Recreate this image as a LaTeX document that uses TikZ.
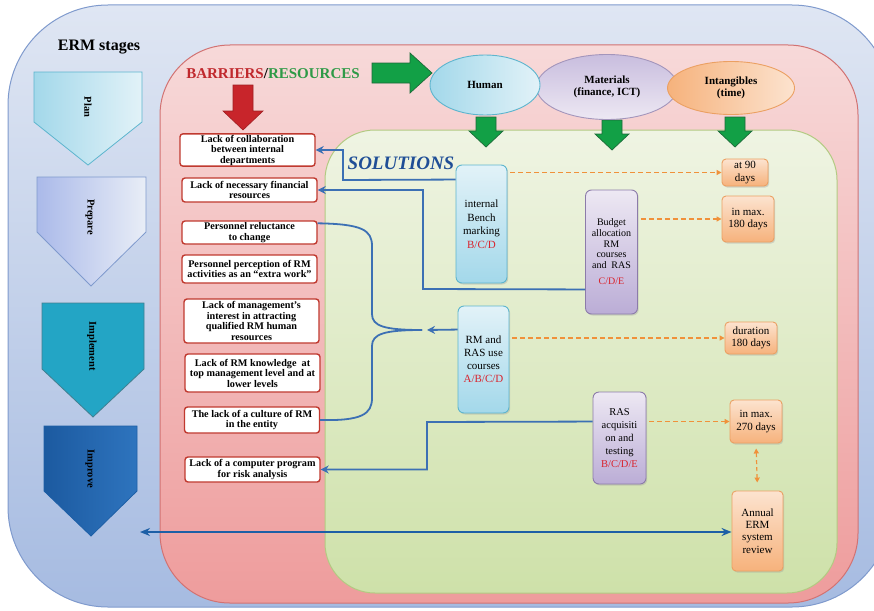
\documentclass[tikz,border=0pt]{standalone}
\usepackage{fontspec}
\setmainfont{Liberation Serif}
\usetikzlibrary{arrows.meta,calc,shapes.geometric}

\definecolor{bgtop}{HTML}{DFE6F3}
\definecolor{bgbot}{HTML}{A6BBE1}
\definecolor{bgline}{HTML}{7F9ACD}
\definecolor{pinktop}{HTML}{F7D9D9}
\definecolor{pinkbot}{HTML}{EE9C9C}
\definecolor{pinkline}{HTML}{D27272}
\definecolor{greentop}{HTML}{EFF4E3}
\definecolor{greenbot}{HTML}{CEE1A9}
\definecolor{greenline}{HTML}{B3CA82}
\definecolor{barrierred}{HTML}{C0392F}
\definecolor{codered}{HTML}{D9232D}
\definecolor{cyantop}{HTML}{E2F2F8}
\definecolor{cyanbot}{HTML}{A3D8EA}
\definecolor{cyanline}{HTML}{5DB5CE}
\definecolor{lavtop}{HTML}{EDE8F3}
\definecolor{lavbot}{HTML}{BBADD6}
\definecolor{lavline}{HTML}{8C7BAA}
\definecolor{peachtop}{HTML}{FCE3CF}
\definecolor{peachbot}{HTML}{F6B27C}
\definecolor{peachline}{HTML}{EBA062}
\definecolor{connblue}{HTML}{3C70B4}
\definecolor{longblue}{HTML}{1D5FA6}
\definecolor{dashorange}{HTML}{F0913A}
\definecolor{arrowgreen}{HTML}{12A046}
\definecolor{arrowgreenline}{HTML}{1D6A39}
\definecolor{arrowred}{HTML}{C8252B}
\definecolor{solblue}{HTML}{1F4E96}
\definecolor{resgreen}{HTML}{2E9A47}
\definecolor{barred}{HTML}{C0282D}
\definecolor{shadowgray}{HTML}{9A9A9A}

\begin{document}
\begin{tikzpicture}[x=1pt,y=-1pt,
  barrier/.style={draw=barrierred, line width=1.4pt, fill=white, rounded corners=3pt,
    font=\bfseries\fontsize{10.2}{10.5}\selectfont, align=center, inner sep=1pt,
    minimum width=135pt},
  softshadow/.style={preaction={fill=shadowgray, fill opacity=0.35,
    transform canvas={xshift=1.2pt, yshift=-1.5pt}}},
  solcyan/.style={softshadow, draw=cyanline, line width=0.9pt, top color=cyantop, bottom color=cyanbot,
    rounded corners=6pt, align=center, inner sep=1pt, minimum width=51pt},
  sollav/.style={softshadow, draw=lavline, line width=0.9pt, top color=lavtop, bottom color=lavbot,
    rounded corners=6pt, align=center, inner sep=1pt, minimum width=52pt},
  timebox/.style={softshadow, draw=peachline, line width=0.9pt, top color=peachtop, bottom color=peachbot,
    rounded corners=4pt, align=center, inner sep=1pt,
    font=\fontsize{11}{12.3}\selectfont},
  stagelabel/.style={rotate=-90, font=\bfseries\fontsize{10.5}{12}\selectfont},
  resource/.style={ellipse, line width=0.9pt, align=center, inner sep=0pt,
    font=\bfseries\fontsize{11}{12.5}\selectfont},
  conn/.style={draw=connblue, line width=1.8pt, -{Stealth[length=8pt,width=8pt]}},
  bracepath/.style={draw=connblue, line width=1.8pt},
  timedash/.style={draw=dashorange, line width=1.2pt, dash pattern=on 5pt off 3pt,
    -{Triangle[length=5pt,width=5pt]}, shorten <=3pt},
  greenblock/.style={fill=arrowgreen, draw=arrowgreenline, line width=0.7pt}
]
\useasboundingbox (0,0) rectangle (874,610);

% nested background panels
\begin{scope}
  \clip (0,0) rectangle (874,610);
  \path[draw=bgline, line width=1pt, top color=bgtop, bottom color=bgbot,
        rounded corners=100pt] (8,5) rectangle (892,607);
\end{scope}
\path[draw=pinkline, line width=1pt, top color=pinktop, bottom color=pinkbot,
      rounded corners=70pt] (160,45) rectangle (858,603);
\path[draw=greenline, line width=1pt, top color=greentop, bottom color=greenbot,
      rounded corners=50pt] (325,130) rectangle (837,593);

% ERM stage pentagons
\node[font=\bfseries\fontsize{16}{18}\selectfont] (ermtitle) at (99,47) {ERM stages};
\path[draw=cyanline, line width=0.8pt, left color=cyanbot, right color=cyantop]
  (34,72) -- (142,72) -- (142,122) -- (88,165) -- (34,122) -- cycle;
\path[draw=bgline, line width=0.8pt, left color=bgbot!90!blue!80, right color=bgtop!70!white]
  (37,177) -- (146,177) -- (146,232) -- (91,286) -- (37,232) -- cycle;
\path[draw=cyanline!70!black, line width=0.8pt, fill={rgb,255:red,35;green,165;blue,197}]
  (42,303) -- (144,303) -- (144,369) -- (93,417) -- (42,369) -- cycle;
\path[draw=longblue, line width=0.8pt, left color={rgb,255:red,28;green,90;blue,160},
      right color={rgb,255:red,46;green,116;blue,190}]
  (44,426) -- (137,426) -- (137,491) -- (91,536) -- (44,491) -- cycle;
\node[stagelabel] (plan) at (88,107) {Plan};
\node[stagelabel] (prepare) at (90,217) {Prepare};
\node[stagelabel] (implement) at (92,346) {Implement};
\node[stagelabel] (improve) at (90,469) {Improve};

% headings
\node[font=\bfseries\fontsize{15}{17}\selectfont, inner sep=0pt] (bartitle) at (273,74)
  {\textcolor{barred}{BARRIERS}/\textcolor{resgreen}{RESOURCES}};
\node[font=\bfseries\itshape\fontsize{19}{21}\selectfont, text=solblue, inner sep=0pt]
  (soltitle) at (401,163) {SOLUTIONS};

% block arrows
\path[fill=arrowred, draw=arrowred!80!black, line width=0.6pt]
  (233,85) -- (253,85) -- (253,111) -- (263,111) -- (243,130) -- (223,111) -- (233,111) -- cycle;
\path[greenblock]
  (372,63) -- (410,63) -- (410,53) -- (432,73) -- (410,93) -- (410,83) -- (372,83) -- cycle;
\path[greenblock]
  (476,117) -- (496,117) -- (496,131) -- (503,131) -- (486,147) -- (469,131) -- (476,131) -- cycle;
\path[greenblock]
  (602,120) -- (622,120) -- (622,134) -- (629,134) -- (612,150) -- (595,134) -- (602,134) -- cycle;
\path[greenblock]
  (725,117) -- (745,117) -- (745,131) -- (752,131) -- (735,147) -- (718,131) -- (725,131) -- cycle;

% resource ellipses
\node[resource, draw=lavline!80, top color=lavbot!80, bottom color=lavtop,
      minimum width=141pt, minimum height=65pt] (materials) at (607,87)
  {Materials\\(finance, ICT)};
\node[resource, draw=cyanline, left color=cyanbot, right color=cyantop,
      minimum width=110pt, minimum height=60pt] (human) at (485,85) {Human};
\node[resource, draw=peachline, left color=peachbot, right color=peachtop,
      minimum width=127pt, minimum height=53pt] (intang) at (731,88)
  {Intangibles\\(time)};

% barriers
\node[barrier, minimum height=32pt] (b1) at (247.5,150)
  {Lack of collaboration\\between internal\\departments};
\node[barrier, minimum height=24pt] (b2) at (249.5,190)
  {Lack of necessary financial\\resources};
\node[barrier, minimum height=23pt] (b3) at (249.5,232.5)
  {Personnel reluctance\\to change};
\node[barrier, minimum height=28pt] (b4) at (249.5,269)
  {Personnel perception of RM\\activities as an “extra work”};
\node[barrier, minimum height=44pt] (b5) at (251.5,321)
  {Lack of management’s\\interest in attracting\\qualified RM human\\resources};
\node[barrier, minimum height=38pt] (b6) at (252.5,373)
  {Lack of RM knowledge~ at\\top management level and at\\lower levels};
\node[barrier, minimum height=26pt] (b7) at (252,420)
  {The lack of a culture of RM\\in the entity};
\node[barrier, minimum height=25pt] (b8) at (252.5,469.5)
  {Lack of a computer program\\for risk analysis};

% solutions
\node[solcyan, minimum height=118pt, font=\fontsize{11}{13.5}\selectfont] (bench) at (481.5,224)
  {internal\\Bench\\marking\\\textcolor{codered}{B/C/D}};
\node[sollav, minimum height=124pt, font=\fontsize{10}{10.6}\selectfont] (budget) at (611.5,252)
  {Budget\\allocation\\RM\\courses\\and~ RAS\\[6pt]\textcolor{codered}{C/D/E}};
\node[solcyan, minimum height=107pt, font=\fontsize{11}{13}\selectfont] (rm) at (483.5,359.5)
  {RM and\\RAS use\\courses\\\textcolor{codered}{A/B/C/D}};
\node[sollav, minimum width=53pt, minimum height=92pt, font=\fontsize{10.5}{13}\selectfont] (rasacq) at (619.5,438)
  {RAS\\acquisiti\\on and\\testing\\\textcolor{codered}{B/C/D/E}};

% deadlines
\node[timebox, minimum width=46pt, minimum height=27pt] (d90) at (745,172.5) {at 90\\days};
\node[timebox, minimum width=52pt, minimum height=46pt] (d180) at (748,219) {in max.\\180 days};
\node[timebox, minimum width=52pt, minimum height=32pt] (dur) at (751,338) {duration\\180 days};
\node[timebox, minimum width=52pt, minimum height=43pt] (d270) at (756,421.5) {in max.\\270 days};
\node[timebox, minimum width=51pt, minimum height=80pt] (annual) at (757.5,531)
  {Annual\\ERM\\system\\review};

% solution -> barrier connectors
\draw[conn] ($(bench.north west)+(0,15)$) -- (343,180) |- (b1.east);
\draw[conn] ($(budget.south west)+(0,-25)$) -- (423,289) |- (b2.east);
\draw[conn] ($(rasacq.north west)+(0,30)$) -- (427,422) |- (b8.east);

% brace gathering the personnel / management barriers
\coordinate (bracetip) at (422,330);
\draw[bracepath] ($(b3.north east)+(0,3)$) .. controls (362,224) and (372,230) .. (372,246)
  -- (372,314) .. controls (372,326) and (384,330) .. (bracetip);
\draw[bracepath] (b7.east) .. controls (362,421) and (372,414) .. (372,398)
  -- (372,346) .. controls (372,334) and (384,330) .. (bracetip);
\draw[conn] ($(rm.north west)+(0,24)$) -- (427,330);

% durations
\draw[timedash] (bench.east |- d90.west) -- (d90.west);
\draw[timedash] (budget.east |- d180.west) -- (d180.west);
\draw[timedash] (rm.east |- dur.west) -- (dur.west);
\draw[timedash] (rasacq.east |- d270.west) -- (d270.west);
\draw[draw=dashorange, line width=1.2pt, dash pattern=on 4pt off 3pt,
      {Triangle[length=5pt,width=5pt]}-{Triangle[length=5pt,width=5pt]},
      shorten <=5pt, shorten >=8pt] (d270.south) -- (annual.north);

% review loop back to the stages
\coordinate (stagesend) at (140,532);
\draw[draw=longblue, line width=2.4pt,
      {Stealth[length=10pt,width=8pt]}-{Stealth[length=10pt,width=8pt]}]
  (stagesend) -- (annual.west |- stagesend);
\end{tikzpicture}
\end{document}
